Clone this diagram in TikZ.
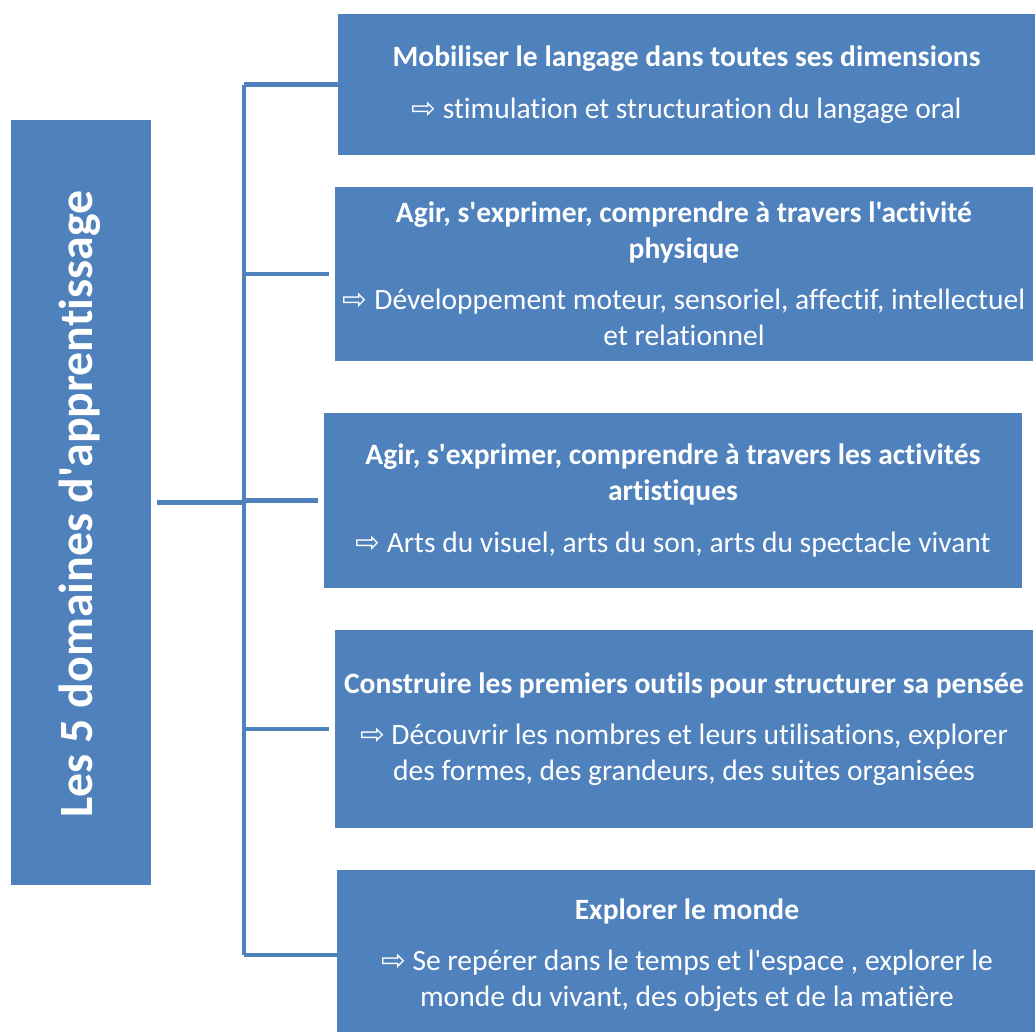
\documentclass[tikz,border=0pt]{standalone}
\usepackage{fontspec}
\setmainfont{Carlito}[Ligatures={TeXOff,NoCommon}]
\newfontfamily\arrowfont{DejaVu Sans}
\usetikzlibrary{positioning, calc}
\usepackage{xcolor}
\definecolor{officeblue}{HTML}{4F81BD}
\newcommand{\fleche}{{\arrowfont\fontsize{21}{21}\selectfont ⇨}\ }

\begin{document}
\begin{tikzpicture}[
    domainbox/.style={rectangle, fill=officeblue, text=white, inner sep=0pt, align=center, font=\fontsize{21}{25.6}\selectfont},
    titre/.style={rectangle, fill=officeblue, text=white, inner sep=0pt, minimum width=3.5cm, minimum height=19.125cm},
    link/.style={draw=officeblue, line width=3.5pt},
]

\useasboundingbox (0,0) rectangle (25.875,-25.775);
\clip (0,0) rectangle (25.875,-25.775);

\node[titre] (main) at (2.025,-12.5625) {};
\node[rotate=90, text=white, font=\fontsize{34}{40}\selectfont\bfseries] (maintext) at (2.0,-12.6) {Les 5 domaines d'apprentissage};

\node[domainbox, minimum width=17.425cm, minimum height=3.525cm] (lang) at (17.1625,-2.1125)
  {\textbf{Mobiliser le langage dans toutes ses dimensions}\\[11pt]\fleche stimulation et structuration du langage oral};
\node[domainbox, minimum width=17.45cm, minimum height=4.35cm] (phys) at (17.1,-6.85)
  {\textbf{Agir, s'exprimer, comprendre à travers l'activité}\\\textbf{physique}\\[11pt]\fleche Développement moteur, sensoriel, affectif, intellectuel\\et relationnel};
\node[domainbox, minimum width=17.45cm, minimum height=4.375cm] (arts) at (16.825,-12.5125)
  {\textbf{Agir, s'exprimer, comprendre à travers les activités}\\\textbf{artistiques}\\[11pt]\fleche Arts du visuel, arts du son, arts du spectacle vivant};
\node[domainbox, minimum width=17.45cm, minimum height=4.95cm] (pensee) at (17.1,-18.225)
  {\textbf{Construire les premiers outils pour structurer sa pensée}\\[11pt]\fleche Découvrir les nombres et leurs utilisations, explorer\\des formes, des grandeurs, des suites organisées};
\node[domainbox, minimum width=17.5cm, minimum height=4.25cm] (monde) at (17.175,-23.875)
  {\textbf{Explorer le monde}\\[11pt]\fleche Se repérer dans le temps et l'espace , explorer le\\monde du vivant, des objets et de la matière};

% accolade
\coordinate (spine) at (6.1,0);
\draw[link] (spine |- lang.west) -- (spine |- monde.west);
\draw[link, shorten <=4pt] (main.east) -- (main.east -| spine);
\draw[link] (spine |- lang.west) -- (lang.west);
\draw[link, shorten >=4pt] (spine |- phys.west) -- (phys.west);
\draw[link, shorten >=4pt] (spine |- arts.west) -- (arts.west);
\draw[link, shorten >=4pt] (spine |- pensee.west) -- (pensee.west);
\draw[link] (spine |- monde.west) -- (monde.west);
\end{tikzpicture}
\end{document}
